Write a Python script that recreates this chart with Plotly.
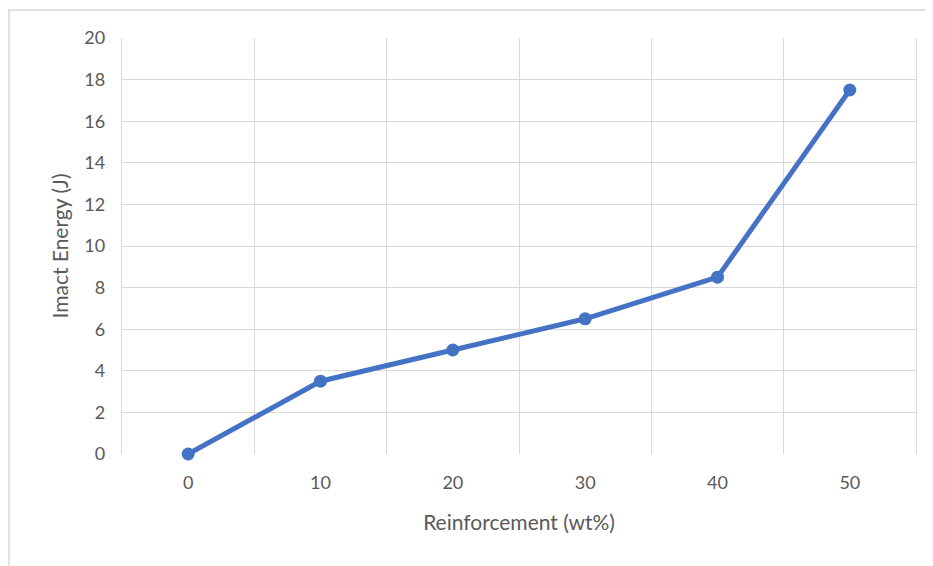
import plotly.graph_objects as go

categories = ["0", "10", "20", "30", "40", "50"]
impact_energy = [0, 3.5, 5, 6.5, 8.5, 17.5]
y_ticks = [0, 2, 4, 6, 8, 10, 12, 14, 16, 18, 20]

OFF = 8  # default page body margin
W, H = 933 - OFF, 566 - OFF
L, R, T, B = 122 - OFF, 17, 38 - OFF, 112
pw, ph = W - L - R, H - T - B

fig = go.Figure()
fig.add_trace(go.Scatter(
    x=categories, y=impact_energy, mode="lines+markers",
    line=dict(color="#4472C4", width=5),
    marker=dict(color="#4472C4", size=13),
    cliponaxis=False,
    showlegend=False,
))

font = "Lato, 'Open Sans', sans-serif"
grid = "#d9d9d9"
fig.update_layout(
    width=W, height=H,
    margin=dict(l=L, r=R, t=T, b=B),
    paper_bgcolor="white", plot_bgcolor="white",
    font=dict(family=font, color="#595959", size=18),
    xaxis=dict(
        type="category", range=[-0.5, 5.5],
        tickson="boundaries", showgrid=True, gridcolor=grid, gridwidth=1.3,
        ticks="", ticklabelstandoff=16,
        showline=False, zeroline=False,
        title=dict(text="Reinforcement (wt%)", font=dict(size=21), standoff=23),
        tickfont=dict(size=18),
    ),
    yaxis=dict(
        range=[0, 20], tickvals=y_ticks,
        showgrid=True, gridcolor=grid, gridwidth=1.3,
        ticks="", ticklabelstandoff=12,
        showline=True, linecolor=grid, linewidth=1.3, mirror=True,
        zeroline=False,
        title=dict(text="Imact Energy (J)", font=dict(size=21), standoff=10),
        tickfont=dict(size=18),
    ),
    shapes=[dict(
        type="rect", xref="paper", yref="paper",
        x0=(9 - OFF - L) / pw, x1=(W + 20 - L) / pw,
        y0=(T + ph - (H + 20)) / ph, y1=(T + ph - (10 - OFF)) / ph,
        line=dict(color=grid, width=1.5), layer="below",
    )],
)

fig.write_html("out.html")
